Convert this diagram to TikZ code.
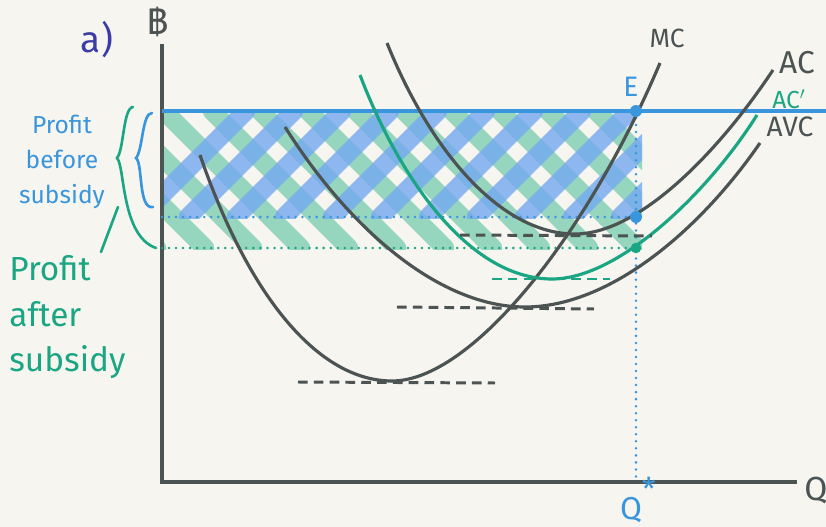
\documentclass[tikz,border=0pt]{standalone}
\usepackage{fontspec}
\setmainfont{Fira Sans}
\newfontfamily\thaifont[Script=Thai]{Loma}
\definecolor{paper}{HTML}{F7F5F0}
\definecolor{ink}{HTML}{4B5353}
\definecolor{skyBlue}{HTML}{3A96DC}
\definecolor{hatchBlue}{HTML}{74A8F0}
\definecolor{mint}{HTML}{1AA683}
\definecolor{hatchMint}{HTML}{6EC8A9}
\definecolor{indigo}{HTML}{3C3CA8}
\usetikzlibrary{positioning}

\begin{document}
\begin{tikzpicture}[
  x=0.02cm,y=-0.02cm,
  curve/.style={draw=ink,line width=1.8pt},
  axis/.style={draw=ink,line width=2pt},
  dotline/.style={line width=1.6pt,line cap=round,dash pattern=on 0pt off 4pt},
  dashline/.style={line width=1.7pt,dash pattern=on 5.5pt off 3.5pt},
  hatchB/.style={draw=hatchBlue,line width=10.5pt,line cap=round,draw opacity=0.8},
  hatchG/.style={draw=hatchMint,line width=10.5pt,line cap=round,draw opacity=0.7},
  lbl/.style={inner sep=0pt,font=\fontsize{15}{15}\selectfont}
]
\fill[paper] (0,0) rectangle (826,527);
\useasboundingbox (0,0) rectangle (826,527);

% shaded profit areas
\begin{scope}
  \clip (164,114) rectangle (642,250);
  \foreach \g in {20,68,...,640} \draw[hatchG] (\g,111) -- ++(137,137);
\end{scope}
\begin{scope}
  \clip (164,114) rectangle (642,219);
  \foreach \b in {140,188,...,690} \draw[hatchB] (\b,217) -- ++(106,-106);
\end{scope}

% axes
\coordinate (O) at (162,482);
\coordinate (ytop) at (162,44);
\coordinate (xend) at (797,482);
\draw[axis] (ytop) -- (O) -- (xend);
\node[lbl,text=ink,font=\fontsize{19}{19}\selectfont] (qax) at (816,491) {Q};
\node[lbl,text=ink,font=\thaifont\fontsize{20}{20}\selectfont] (baht) at (158,22) {฿};
\node[lbl,text=indigo,font=\fontsize{21}{21}\selectfont] (part) at (97,40) {a)};

% price line and equilibrium
\coordinate (E) at (636,111);
\coordinate (pL) at (162,111);
\coordinate (pR) at (826,111);
\coordinate (Qs) at (636,482);
\coordinate (acpt) at (636,217);
\coordinate (acppt) at (636,248);
\coordinate (bL) at (162,217);
\coordinate (gL) at (162,248);
\draw[skyBlue,line width=1.8pt] (pL) -- (pR);
\draw[skyBlue,dotline] (E) -- (Qs);
\draw[skyBlue,dotline] (bL) -- (acpt);
\draw[mint,dotline] (gL) -- (acppt);

% cost curves
\draw[curve] (200,155) .. controls (250,300) and (320,381) .. (392,381)
  .. controls (470,381) and (585,240) .. (660,63);
\draw[curve] (285,127) .. controls (350,230) and (440,307) .. (525,307)
  .. controls (610,307) and (700,230) .. (760,143);
\draw[draw=mint,line width=1.8pt] (360,75) .. controls (400,180) and (470,279) .. (552,279)
  .. controls (620,279) and (710,190) .. (757,115);
\draw[curve] (387,43) .. controls (430,150) and (500,234) .. (575,234)
  .. controls (640,234) and (720,150) .. (773,70);

% minimum points
\draw[ink,dashline] (298,382) -- (495,383);
\draw[ink,dashline] (397,307) -- (594,309);
\draw[ink,dashline] (460,235) -- (652,236);
\draw[mint,dashline] (492,279) -- (610,279);

\fill[skyBlue] (E) circle (3.4pt);
\fill[skyBlue] (acpt) circle (3.4pt);
\fill[mint] (acppt) circle (3pt);

% curve labels
\node[lbl,text=ink] (mc) at (667,38) {MC};
\node[lbl,text=ink,font=\fontsize{18}{18}\selectfont] (ac) at (797,63) {AC};
\node[lbl,text=mint,font=\fontsize{14}{14}\selectfont] (acp) at (789,99) {AC$'$};
\node[lbl,text=ink,font=\fontsize{16}{16}\selectfont] (avc) at (790,127) {AVC};
\node[lbl,text=skyBlue,font=\fontsize{16}{16}\selectfont] (elbl) at (631,87) {E};
\node[lbl,text=skyBlue,font=\fontsize{18}{18}\selectfont] (qstar) at (638,500) {Q\raisebox{1.1ex}{*}};

% braces
\draw[mint,line width=1.5pt,line cap=round] (133,107) .. controls (123,108) and (124,150) .. (117,158)
  .. controls (125,166) and (121,236) .. (156,248);
\draw[skyBlue,line width=1.5pt,line cap=round] (152,113) .. controls (142,113) and (143,150) .. (136,158)
  .. controls (143,163) and (138,210) .. (153,207);
\coordinate (ptrA) at (118,207);
\coordinate (ptrB) at (101,252);
\draw[mint,line width=1.5pt,line cap=round] (ptrA) -- (ptrB);

\node[lbl,text=skyBlue,align=center,font=\fontsize{14}{20}\selectfont] (before) at (62,162) {Profit\\before\\subsidy};
\node[lbl,text=mint,align=left,anchor=north west,font=\fontsize{19}{26}\selectfont] (after) at (9,255) {Profit\\after\\subsidy};
\end{tikzpicture}
\end{document}
